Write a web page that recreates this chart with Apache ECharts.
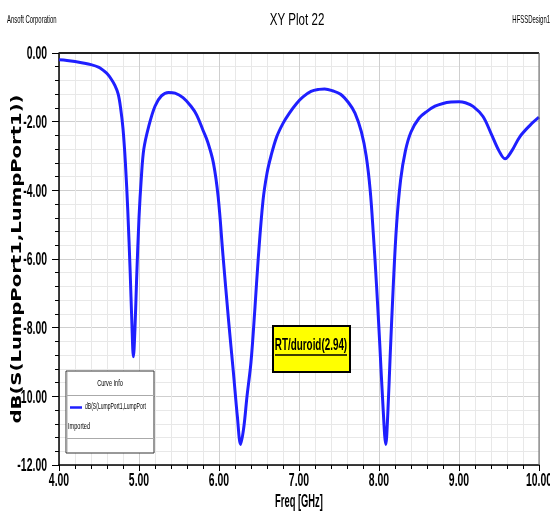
<!DOCTYPE html>
<html>
<head>
<meta charset="utf-8">
<script src="https://cdn.jsdelivr.net/npm/echarts@6/dist/echarts.min.js"></script>
<style>
html,body{margin:0;padding:0;background:#fff;}
#c{width:550px;height:516px;}
</style>
</head>
<body>
<div id="c"></div>
<script>
// Data
const freqGHz = [4.0,4.1,4.2,4.3,4.4,4.5,4.55,4.6,4.65,4.7,4.74,4.77,4.8,4.83,4.86,4.89,4.91,4.93,4.95,4.97,5.0,5.03,5.06,5.12,5.2,5.28,5.37,5.45,5.55,5.65,5.72,5.8,5.86,5.93,5.99,6.05,6.12,6.18,6.23,6.27,6.31,6.35,6.4,6.45,6.49,6.55,6.6,6.65,6.72,6.8,6.88,6.97,7.05,7.15,7.25,7.32,7.42,7.52,7.62,7.7,7.78,7.84,7.89,7.93,7.97,8.01,8.05,8.085,8.11,8.14,8.18,8.22,8.27,8.33,8.4,8.5,8.6,8.7,8.8,8.9,9.0,9.08,9.18,9.3,9.4,9.5,9.575,9.66,9.76,9.89,10.0];
const s11dB = [-0.2,-0.22,-0.25,-0.29,-0.34,-0.42,-0.5,-0.6,-0.75,-0.95,-1.2,-1.6,-2.2,-3.2,-4.6,-6.4,-7.8,-8.85,-8.0,-6.6,-4.8,-3.6,-2.8,-2.15,-1.55,-1.25,-1.15,-1.17,-1.3,-1.55,-1.8,-2.25,-2.6,-3.2,-4.2,-5.9,-7.8,-9.3,-10.6,-11.4,-10.9,-10.0,-9.0,-7.4,-6.0,-4.3,-3.5,-3.0,-2.45,-2.05,-1.75,-1.47,-1.28,-1.12,-1.06,-1.05,-1.1,-1.2,-1.45,-1.75,-2.3,-3.0,-4.0,-5.3,-6.8,-8.5,-10.3,-11.4,-10.5,-8.8,-6.7,-5.0,-3.7,-2.85,-2.3,-1.9,-1.7,-1.55,-1.47,-1.43,-1.42,-1.45,-1.56,-1.85,-2.34,-2.85,-3.08,-2.85,-2.44,-2.1,-1.87];
const xTickValues = [4,5,6,7,8,9,10];
const xTickLabels = ['4.00','5.00','6.00','7.00','8.00','9.00','10.00'];
const yTickValues = [-12,-10,-8,-6,-4,-2,0];
const yTickLabels = ['-12.00','-10.00','-8.00','-6.00','-4.00','-2.00','0.00'];
const seriesName = 'dB(S(LumpPort1,LumpPort1))';
const legendText = 'dB(S(LumpPort1,LumpPort';
const annotationText = 'RT/duroid(2.94)';

const F = '"Liberation Sans",Arial,sans-serif';
const chart = echarts.init(document.getElementById('c'), null, {renderer:'canvas'});
const pts = freqGHz.map((f,i)=>[f, s11dB[i]]);

function txt(text, x, y, font, align, vAlign, sx, extra){
  const o = {type:'text', x:x, y:y, scaleX:sx||1, z:30,
    style:{text:text, font:font, fill:'#000', align:align, textAlign:align,
           verticalAlign:vAlign, textVerticalAlign:vAlign}};
  return Object.assign(o, extra||{});
}

chart.setOption({
  backgroundColor:'#ffffff',
  animation:false,
  grid:{left:59,right:11,top:53,bottom:51,show:false,containLabel:false,outerBoundsMode:'none'},
  xAxis:{
    type:'value',min:4,max:10,interval:1,
    axisLine:{show:true,onZero:false,lineStyle:{color:'#000',width:1.5}},
    axisTick:{show:true,length:6,lineStyle:{color:'#000'}},
    minorTick:{show:true,splitNumber:5,length:4,lineStyle:{color:'#000'}},
    axisLabel:{show:false},
    splitLine:{show:true,lineStyle:{color:'#cfcfcf',width:1}},
    minorSplitLine:{show:true,lineStyle:{color:'#e8e8e8',width:1}}
  },
  yAxis:{
    type:'value',min:-12,max:0,interval:2,
    axisLine:{show:true,onZero:false,lineStyle:{color:'#000',width:1.5}},
    axisTick:{show:true,length:7,lineStyle:{color:'#000'}},
    minorTick:{show:true,splitNumber:5,length:4,lineStyle:{color:'#000'}},
    axisLabel:{show:false},
    splitLine:{show:true,lineStyle:{color:'#cfcfcf',width:1}},
    minorSplitLine:{show:true,lineStyle:{color:'#e8e8e8',width:1}}
  },
  series:[{
    name:seriesName,type:'line',data:pts,smooth:0.35,showSymbol:false,
    lineStyle:{color:'#1f1fff',width:3},z:3
  }]
});

// Tick labels positioned through the axis scales
const g = [];
xTickValues.forEach((v,i)=>{
  const p = chart.convertToPixel({gridIndex:0},[v,-12]);
  g.push(txt(xTickLabels[i], p[0], p[1]+16, 'bold 19px '+F, 'center', 'middle', 0.55));
});
yTickValues.forEach((v,i)=>{
  const p = chart.convertToPixel({gridIndex:0},[4,v]);
  g.push(txt(yTickLabels[i], p[0]-12, p[1]+1, 'bold 19px '+F, 'right', 'middle', 0.55));
});
const tl = chart.convertToPixel({gridIndex:0},[4,0]);
const br = chart.convertToPixel({gridIndex:0},[10,-12]);
const cx = (tl[0]+br[0])/2, cy = (tl[1]+br[1])/2;
// axis names
g.push(txt('Freq [GHz]', cx, br[1]+37, 'bold 18px '+F, 'center', 'middle', 0.52));
g.push(txt(seriesName, 17, cy, 'bold 14px "DejaVu Sans",sans-serif', 'center', 'middle', 1.4, {rotation:Math.PI/2}));
// frame top and right
g.push({type:'line',shape:{x1:tl[0],y1:tl[1],x2:br[0],y2:tl[1]},style:{stroke:'#222',lineWidth:2},z:10});
g.push({type:'line',shape:{x1:br[0],y1:tl[1],x2:br[0],y2:br[1]},style:{stroke:'#666',lineWidth:1},z:10});
// header texts
g.push(txt('Ansoft Corporation', 7, 20, '11px '+F, 'left', 'middle', 0.54));
g.push(txt('XY Plot 22', 297, 20, '17px '+F, 'center', 'middle', 0.68));
g.push(txt('HFSSDesign1', 550, 20, '11px '+F, 'right', 'middle', 0.54));
// legend box
g.push({type:'rect',shape:{x:66,y:371,width:88,height:82},style:{fill:'#fff',stroke:'#333',lineWidth:1},z:20});
g.push({type:'line',shape:{x1:67,y1:372,x2:67,y2:452},style:{stroke:'#aaa',lineWidth:1},z:21});
g.push(txt('Curve Info', 110, 384, '9px '+F, 'center', 'middle', 0.62));
g.push({type:'line',shape:{x1:66,y1:395.5,x2:154,y2:395.5},style:{stroke:'#aaa',lineWidth:1},z:21});
g.push({type:'line',shape:{x1:70,y1:407.5,x2:82,y2:407.5},style:{stroke:'#1f1fff',lineWidth:2.5},z:21});
g.push(txt(legendText, 85, 407, '9px '+F, 'left', 'middle', 0.56));
g.push(txt('Imported', 68, 427, '9px '+F, 'left', 'middle', 0.62));
g.push({type:'line',shape:{x1:66,y1:438.5,x2:154,y2:438.5},style:{stroke:'#aaa',lineWidth:1},z:21});
// annotation box
g.push({type:'rect',shape:{x:273,y:326,width:77,height:46},style:{fill:'#ffff00',stroke:'#000',lineWidth:2},z:20});
g.push(txt(annotationText, 311, 345, 'bold 17px '+F, 'center', 'middle', 0.58));
g.push({type:'line',shape:{x1:275,y1:355,x2:347,y2:355},style:{stroke:'#000',lineWidth:1.5},z:31});

chart.setOption({graphic:g});
</script>
</body>
</html>
